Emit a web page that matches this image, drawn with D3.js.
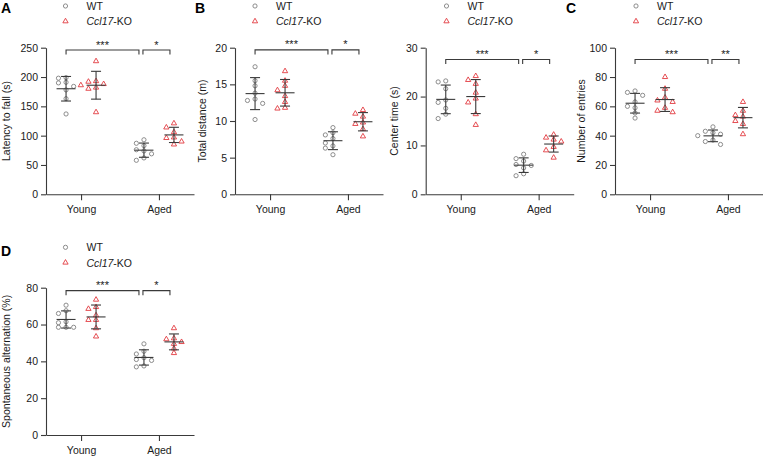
<!DOCTYPE html>
<html><head><meta charset="utf-8">
<script src="https://cdn.jsdelivr.net/npm/d3@7"></script>
<style>body{margin:0;background:#fff;} svg{display:block;font-family:Arial,"Liberation Sans",sans-serif;}</style>
</head><body><svg id="chart" width="763" height="456"></svg>
<script>
// ---------- data ----------
const categories = ["Young", "Aged"];
const groups = ["WT", "Ccl17-KO"];

const latencyWTYoung = [199, 198, 191, 190, 184, 178, 163, 137];
const latencyKOYoung = [227, 193, 192, 188, 186, 182, 180, 140];
const latencyWTAged  = [93, 87, 83, 76, 74, 69, 62, 58];
const latencyKOAged  = [121, 114, 106, 97, 96, 90, 85];
const latencyTicks = [0, 50, 100, 150, 200, 250];
const latencySig = ["***", "*"];

const distanceWTYoung = [17.4, 15.5, 14.8, 13.8, 13.0, 12.8, 12.4, 10.2];
const distanceKOYoung = [16.8, 15.5, 14.8, 14.2, 13.4, 12.6, 11.8, 11.7];
const distanceWTAged  = [9.1, 8.4, 8.1, 7.6, 7.0, 6.6, 6.3, 5.4];
const distanceKOAged  = [11.5, 11.0, 10.6, 9.8, 9.6, 8.9, 7.9];
const distanceTicks = [0, 5, 10, 15, 20];
const distanceSig = ["***", "*"];

const centerWTYoung = [23.2, 23.0, 21.6, 19.3, 18.8, 17.6, 16.4, 15.5];
const centerKOYoung = [24.2, 23.4, 22.6, 20.8, 19.6, 18.8, 16.4, 14.2];
const centerWTAged  = [8.2, 7.3, 6.8, 6.1, 5.9, 5.4, 4.2, 3.8];
const centerKOAged  = [12.2, 11.6, 11.2, 10.8, 9.7, 9.0, 7.5];
const centerTicks = [0, 10, 20, 30];
const centerSig = ["***", "*"];

const entriesWTYoung = [70.5, 69.5, 67.5, 63.0, 60.0, 59.0, 55.5, 52.0];
const entriesKOYoung = [80, 72, 66, 64, 63, 59, 57, 56];
const entriesWTAged  = [46, 43, 42, 41, 40, 37, 36, 34];
const entriesKOAged  = [63, 57, 54, 53, 50, 48, 41];
const entriesTicks = [0, 20, 40, 60, 80, 100];
const entriesSig = ["***", "**"];

const altWTYoung = [70.5, 67.5, 66.0, 61.5, 61.0, 58.5, 58.5, 58.5];
const altKOYoung = [73.5, 69.5, 68.5, 65, 62.5, 62.5, 58, 53.5];
const altWTAged  = [49.5, 45.5, 44, 42, 41, 40.5, 37.5, 37];
const altKOAged  = [58, 52.5, 52, 50.5, 49.5, 47, 44.5];
const altTicks = [0, 20, 40, 60, 80];
const altSig = ["***", "*"];

// bracket heights (data units)
const bracketLevels = [246, 19.7, 27.6, 92, 78.4];

// ---------- drawing ----------
const svg = d3.select("#chart");
const GRAY = "#808080", RED = "#e23a40", DARK = "#3a3a3a", TXT = "#1a1a1a";

const panels = [
  {letter:"A", lx:1, ly:12.7, label:"Latency to fall (s)", labX:10, left:46, top:47.7, bottom:194.3,
   ticks:latencyTicks, sig:latencySig, br:bracketLevels[0], leg:[65.5, 6],
   data:[[latencyWTYoung, latencyKOYoung],[latencyWTAged, latencyKOAged]]},
  {letter:"B", lx:195, ly:12.7, label:"Total distance (m)", labX:206, left:235, top:47.7, bottom:194.3,
   ticks:distanceTicks, sig:distanceSig, br:bracketLevels[1], leg:[255, 6],
   data:[[distanceWTYoung, distanceKOYoung],[distanceWTAged, distanceKOAged]]},
  {letter:null, label:"Center time (s)", labX:398, left:425.7, top:47.7, bottom:194.3,
   ticks:centerTicks, sig:centerSig, br:bracketLevels[2], leg:[446.5, 6],
   data:[[centerWTYoung, centerKOYoung],[centerWTAged, centerKOAged]]},
  {letter:"C", lx:566, ly:12.7, label:"Number of entries", labX:585, left:615, top:47.7, bottom:194.3,
   ticks:entriesTicks, sig:entriesSig, br:bracketLevels[3], leg:[636, 6],
   data:[[entriesWTYoung, entriesKOYoung],[entriesWTAged, entriesKOAged]]},
  {letter:"D", lx:1, ly:256, label:"Spontaneous alternation (%)", labX:9.5, left:46, top:287.7, bottom:435,
   ticks:altTicks, sig:altSig, br:bracketLevels[4], leg:[65.5, 247.3],
   data:[[altWTYoung, altKOYoung],[altWTAged, altKOAged]]}
];

function swarm(vals, y, cx) {
  const pts = vals.map(v => ({v, py: y(v)})).sort((a, b) => a.py - b.py);
  const placed = [];
  const offs = [0, -1, 1, -2, 2, -3, 3];
  pts.forEach(d => {
    d.px = cx;
    for (const o of offs) {
      const px = cx + o * 7.6;
      if (placed.every(q => Math.hypot(q.px - px, q.py - d.py) > 4.4)) { d.px = px; break; }
    }
    placed.push(d);
  });
  return placed;
}

const triSym = d3.symbol().type(d3.symbolTriangle).size(12);

panels.forEach(p => {
  const g = svg.append("g");
  const y = d3.scaleLinear().domain([0, d3.max(p.ticks)]).range([p.bottom, p.top]);
  const x = d3.scalePoint().domain(categories).range([p.left, p.left + 148]).padding(0.45);
  const off = [-15, 15];

  // axes
  const ya = g.append("g").attr("transform", `translate(${p.left},0)`)
    .call(d3.axisLeft(y).tickValues(p.ticks).tickSize(5).tickPadding(3).tickSizeOuter(0));
  const xa = g.append("g").attr("transform", `translate(0,${p.bottom})`)
    .call(d3.axisBottom(x).tickSize(6).tickPadding(5.5).tickSizeOuter(0));
  [ya, xa].forEach(a => {
    a.selectAll("path, line").attr("stroke", DARK).attr("stroke-width", 1.1);
    a.selectAll("text").attr("fill", TXT).style("font-size", "10.5px").style("font-family", "Arial, 'Liberation Sans', sans-serif");
  });

  // y label
  g.append("text").attr("transform", `translate(${p.labX},${(p.top + p.bottom) / 2}) rotate(-90)`)
    .attr("text-anchor", "middle").attr("fill", TXT).style("font-size", "10.5px").text(p.label);

  // panel letter
  if (p.letter) g.append("text").attr("x", p.lx).attr("y", p.ly).attr("fill", "#000")
    .style("font-size", "14px").style("font-weight", "bold").text(p.letter);

  // points + error bars
  categories.forEach((cat, ci) => {
    groups.forEach((grp, gi) => {
      const vals = p.data[ci][gi];
      const cx = x(cat) + off[gi];
      const m = d3.mean(vals), sd = d3.deviation(vals);
      const pts = swarm(vals, y, cx);
      if (gi === 0) {
        g.selectAll(null).data(pts).enter().append("circle")
          .attr("cx", d => d.px).attr("cy", d => d.py).attr("r", 2.1)
          .attr("fill", "none").attr("stroke", GRAY).attr("stroke-width", 0.9);
      } else {
        g.selectAll(null).data(pts).enter().append("path")
          .attr("d", triSym).attr("transform", d => `translate(${d.px},${d.py})`)
          .attr("fill", "none").attr("stroke", RED).attr("stroke-width", 0.9);
      }
      const eb = g.append("g").attr("stroke", DARK).attr("stroke-width", 1.1);
      eb.append("line").attr("x1", cx).attr("x2", cx).attr("y1", y(m + sd)).attr("y2", y(m - sd));
      eb.append("line").attr("x1", cx - 9.5).attr("x2", cx + 9.5).attr("y1", y(m)).attr("y2", y(m));
      [m + sd, m - sd].forEach(v => eb.append("line").attr("x1", cx - 5).attr("x2", cx + 5).attr("y1", y(v)).attr("y2", y(v)));
    });
  });

  // significance brackets
  const by = y(p.br);
  const spans = [
    [x("Young") + off[0], x("Aged") + off[0] - 5],
    [x("Aged") + off[0] - 1, x("Aged") + off[1] - 4]
  ];
  spans.forEach((s, i) => {
    g.append("path").attr("d", `M${s[0]},${by + 4.5}V${by}H${s[1]}V${by + 4.5}`)
      .attr("fill", "none").attr("stroke", DARK).attr("stroke-width", 1.1);
    g.append("text").attr("x", (s[0] + s[1]) / 2).attr("y", by - 1.5).attr("text-anchor", "middle")
      .attr("fill", TXT).style("font-size", "11px").text(p.sig[i]);
  });

  // legend
  const [lx, ly] = p.leg;
  g.append("circle").attr("cx", lx).attr("cy", ly).attr("r", 2.1).attr("fill", "none").attr("stroke", GRAY).attr("stroke-width", 0.9);
  g.append("path").attr("d", triSym).attr("transform", `translate(${lx},${ly + 15.3})`).attr("fill", "none").attr("stroke", RED).attr("stroke-width", 0.9);
  g.append("text").attr("x", lx + 21).attr("y", ly + 4).attr("fill", TXT).style("font-size", "10.5px").text(groups[0]);
  const t2 = g.append("text").attr("x", lx + 21).attr("y", ly + 19.3).attr("fill", TXT).style("font-size", "10.5px");
  t2.append("tspan").style("font-style", "italic").text("Ccl17");
  t2.append("tspan").text("-KO");
});
</script></body></html>
